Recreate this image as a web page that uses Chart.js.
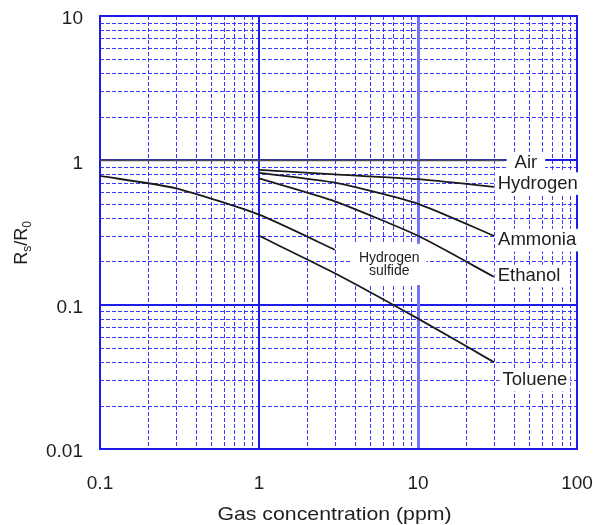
<!DOCTYPE html>
<html>
<head>
<meta charset="utf-8">
<script src="https://cdn.jsdelivr.net/npm/chart.js@4.4.1/dist/chart.umd.min.js"></script>
<style>
    html, body { margin: 0; padding: 0; background: #fff; }
    #wrap { width: 593px; height: 525px; }
</style>
</head>
<body>
<div id="wrap"><canvas id="myChart"></canvas></div>
<script>
// axis decades (tick labels) and the minor steps inside each decade
const xTicks = [0.1, 1, 10, 100];
const yTicks = [0.01, 0.1, 1, 10];
const minorSteps = [2, 3, 4, 5, 6, 7, 8, 9];

// series (Rs/R0 vs ppm)
const seriesNames = ["Air", "Hydrogen", "Ammonia", "Ethanol", "Hydrogen sulfide", "Toluene"];
const airX = [0.1, 35];
const airY = [1, 1];
const hydrogenX = [1, 3, 10, 30];
const hydrogenY = [0.86, 0.8, 0.74, 0.655];
const ammoniaX = [1, 3, 10, 30];
const ammoniaY = [0.82, 0.7, 0.5, 0.3];
const ethanolX = [1, 3, 10, 30];
const ethanolY = [0.75, 0.52, 0.3, 0.156];
const sulfideX = [0.1, 0.3, 1, 3];
const sulfideY = [0.78, 0.64, 0.42, 0.24];
const tolueneX = [1, 3, 10, 30];
const tolueneY = [0.3, 0.165, 0.08, 0.04];

const FONT = "'Liberation Sans', Arial, sans-serif";
const TEXT = "#1e1e1e";

const toPoints = (xs, ys) => xs.map((v, i) => ({ x: v, y: ys[i] }));

// curve labels, placed in data coordinates
const curveLabels = [
    { lines: ["Air"], x: 47.7, y: 0.955, align: "center", size: 18.5, pad: [8, 3] },
    { lines: ["Hydrogen"], x: 31.7, y: 0.69, align: "left", size: 18.5, pad: [3, 3] },
    { lines: ["Ammonia"], x: 31.9, y: 0.28, align: "left", size: 18.5, pad: [3, 3] },
    { lines: ["Ethanol"], x: 31.7, y: 0.158, align: "left", size: 18.5, pad: [3, 3] },
    { lines: ["Toluene"], x: 34, y: 0.03, align: "left", size: 18.5, pad: [3, 3] },
    { lines: ["Hydrogen", "sulfide"], x: 6.6, y: 0.19, align: "center", size: 14, pad: [7, 8] },
];

const line = (ctx, x1, y1, x2, y2) => {
    ctx.beginPath();
    ctx.moveTo(x1, y1);
    ctx.lineTo(x2, y2);
    ctx.stroke();
};

const paperGrid = {
    id: "paperGrid",
    beforeDatasetsDraw(chart) {
        const { ctx, chartArea: a, scales } = chart;
        const xs = scales.x;
        const ys = scales.y;
        ctx.save();

        // minor dashed lines
        ctx.strokeStyle = "#3b3bff";
        ctx.lineWidth = 1;
        ctx.setLineDash([4, 2]);
        xTicks.slice(0, -1).forEach((d) => {
            minorSteps.forEach((m) => {
                const px = Math.round(xs.getPixelForValue(d * m)) + 0.5;
                line(ctx, px, a.top, px, a.bottom);
            });
        });
        yTicks.slice(0, -1).forEach((d) => {
            minorSteps.forEach((m) => {
                const py = Math.round(ys.getPixelForValue(d * m)) + 0.5;
                line(ctx, a.left, py, a.right, py);
            });
        });

        // decade lines
        ctx.setLineDash([]);
        ctx.lineWidth = 2;
        ctx.strokeStyle = "#1c1ce6";
        yTicks.slice(1, -1).forEach((v) => {
            const py = Math.round(ys.getPixelForValue(v));
            line(ctx, a.left, py, a.right, py);
        });
        line(ctx, Math.round(xs.getPixelForValue(1)), a.top, Math.round(xs.getPixelForValue(1)), a.bottom);
        ctx.lineWidth = 3;
        ctx.strokeStyle = "#7474f2";
        const p10 = Math.round(xs.getPixelForValue(10)) + 0.5;
        line(ctx, p10, a.top, p10, a.bottom);

        // frame
        ctx.lineWidth = 2;
        ctx.strokeStyle = "#1c1ce6";
        ctx.strokeRect(a.left, a.top, a.right - a.left, a.bottom - a.top);

        // label boxes + text
        curveLabels.forEach((lb) => {
            ctx.font = lb.size + "px " + FONT;
            const lh = lb.size * 0.9;
            const w = Math.max(...lb.lines.map((t) => ctx.measureText(t).width));
            const cx = xs.getPixelForValue(lb.x);
            const cy = ys.getPixelForValue(lb.y);
            const left = lb.align === "center" ? cx - w / 2 : cx;
            const h = lh * lb.lines.length;
            ctx.fillStyle = "#fff";
            ctx.fillRect(left - lb.pad[0], cy - h / 2 - lb.pad[1], w + 2 * lb.pad[0], h + 2 * lb.pad[1]);
            ctx.fillStyle = TEXT;
            ctx.textAlign = lb.align;
            ctx.textBaseline = "middle";
            lb.lines.forEach((t, i) => {
                ctx.fillText(t, cx, cy - h / 2 + lh * (i + 0.5));
            });
        });
        ctx.restore();
    },
    afterDraw(chart) {
        const { ctx, chartArea: a } = chart;
        ctx.save();
        ctx.fillStyle = TEXT;

        // x title, slightly wide lettering as in the original
        ctx.textAlign = "center";
        ctx.textBaseline = "alphabetic";
        ctx.font = "19px " + FONT;
        ctx.translate((a.left + a.right) / 2 - 4, 520);
        ctx.scale(1.12, 1);
        ctx.fillText("Gas concentration (ppm)", 0, 0);
        ctx.setTransform(1, 0, 0, 1, 0, 0);

        // y title Rs/R0 with subscripts
        const parts = [["R", 18, 0], ["s", 12, 4], ["/", 18, 0], ["R", 18, 0], ["0", 12, 4]];
        let total = 0;
        parts.forEach((p) => {
            ctx.font = p[1] + "px " + FONT;
            total += ctx.measureText(p[0]).width;
        });
        ctx.translate(27, 243);
        ctx.rotate(-Math.PI / 2);
        ctx.textAlign = "left";
        let pos = -total / 2;
        parts.forEach((p) => {
            ctx.font = p[1] + "px " + FONT;
            ctx.fillText(p[0], pos, p[2]);
            pos += ctx.measureText(p[0]).width;
        });
        ctx.restore();
    },
};

const series = [
    toPoints(airX, airY),
    toPoints(hydrogenX, hydrogenY),
    toPoints(ammoniaX, ammoniaY),
    toPoints(ethanolX, ethanolY),
    toPoints(sulfideX, sulfideY),
    toPoints(tolueneX, tolueneY),
];

const ctx = document.getElementById("myChart");
new Chart(ctx, {
    type: "line",
    data: {
        datasets: series.map((pts, i) => ({
            label: seriesNames[i],
            data: pts,
            borderColor: i === 0 ? "#4a4a5a" : "#1a1a1a",
            borderWidth: 1.8,
            pointRadius: 0,
            tension: 0.2,
            fill: false,
        })),
    },
    options: {
        responsive: true,
        maintainAspectRatio: false,
        animation: false,
        layout: { padding: { top: 16, right: 16, left: 0, bottom: 0 } },
        plugins: {
            legend: { display: false },
            tooltip: { enabled: false },
        },
        scales: {
            x: {
                type: "logarithmic",
                min: 0.1,
                max: 100,
                afterBuildTicks: (s) => { s.ticks = xTicks.map((v) => ({ value: v })); },
                afterFit: (s) => {
                    s.height = 76;
                    s.paddingLeft = 0;
                    s.paddingRight = 0;
                },
                grid: { display: false },
                border: { display: false },
                ticks: {
                    callback: (v) => String(v),
                    color: TEXT,
                    font: { family: FONT, size: 19 },
                    padding: 15,
                    maxRotation: 0,
                    autoSkip: false,
                },
            },
            y: {
                type: "logarithmic",
                min: 0.01,
                max: 10,
                afterBuildTicks: (s) => { s.ticks = yTicks.map((v) => ({ value: v })); },
                afterFit: (s) => {
                    s.width = 100;
                    s.paddingTop = 0;
                    s.paddingBottom = 0;
                },
                grid: { display: false },
                border: { display: false },
                ticks: {
                    callback: (v) => String(v),
                    color: TEXT,
                    font: { family: FONT, size: 19 },
                    padding: 9,
                    labelOffset: 3,
                    autoSkip: false,
                },
            },
        },
    },
    plugins: [paperGrid],
});
</script>
</body>
</html>
